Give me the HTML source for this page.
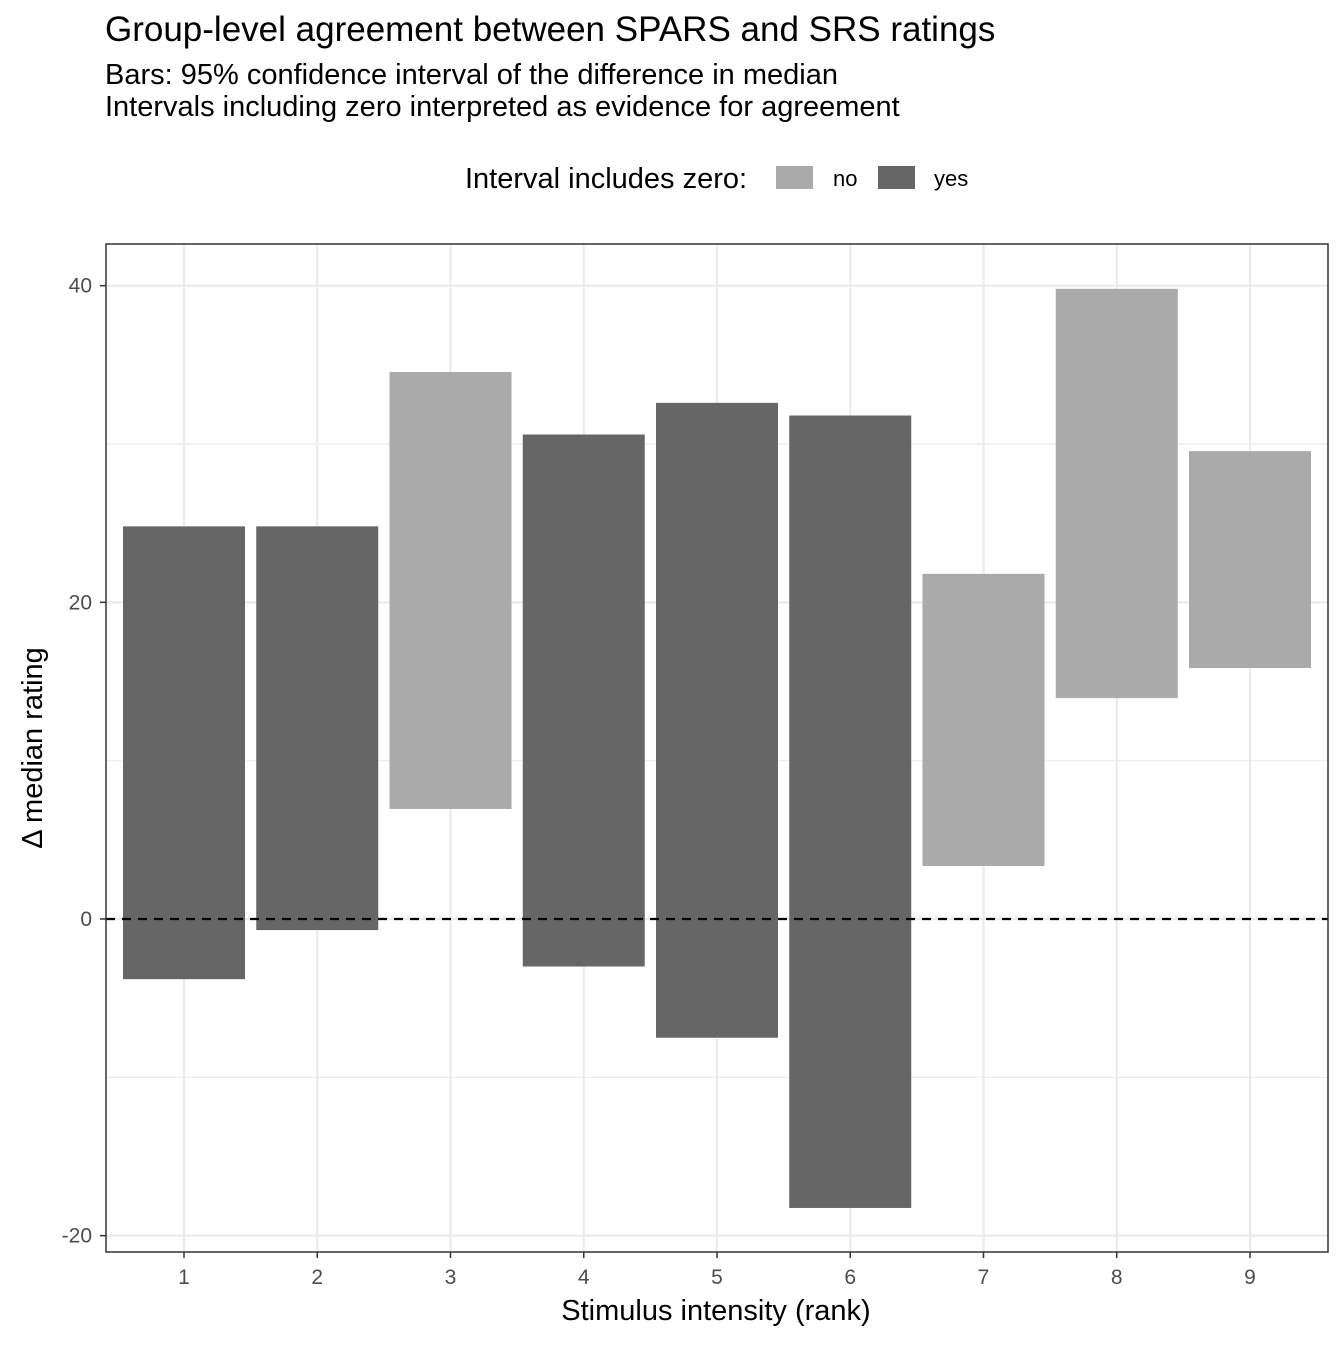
<!DOCTYPE html>
<html><head><meta charset="utf-8"><style>
body{margin:0;background:#fff;}
svg text{font-family:"Liberation Sans",Arial,sans-serif;}
</style></head><body>
<svg width="1344" height="1344" xmlns="http://www.w3.org/2000/svg">
<rect width="1344" height="1344" fill="#fff"/>
<text x="105" y="41" font-size="35" fill="#000">Group-level agreement between SPARS and SRS ratings</text>
<text x="105" y="84" font-size="29" fill="#000">Bars: 95% confidence interval of the difference in median</text>
<text x="105" y="116" font-size="29" fill="#000">Intervals including zero interpreted as evidence for agreement</text>
<g>
<text x="465" y="188" font-size="29">Interval includes zero:</text>
<rect x="776" y="166" width="37" height="23" fill="#aaaaaa"/>
<text x="833" y="186" font-size="22">no</text>
<rect x="878" y="166" width="37" height="23" fill="#666666"/>
<text x="934" y="186" font-size="22">yes</text>
</g>
<g id="grid"></g>
<g id="bars"></g>
<line x1="106" x2="1328" y1="919" y2="919" stroke="#000" stroke-width="2.2" stroke-dasharray="9,7" id="zeroline"/>
<rect x="106" y="244" width="1222" height="1008" fill="none" stroke="#333" stroke-width="1.5"/>
<g id="axes"></g>
<text x="716" y="1320" font-size="29" text-anchor="middle">Stimulus intensity (rank)</text>
<text transform="translate(42,748) rotate(-90)" font-size="29" text-anchor="middle">Δ median rating</text>
</svg>
<script>
const categories=[1,2,3,4,5,6,7,8,9];
const upper=[24.8,24.8,34.55,30.6,32.6,31.8,21.8,39.8,29.55];
const lower=[-3.8,-0.7,6.95,-3.0,-7.5,-18.25,3.35,13.95,15.85];
const includesZero=["yes","yes","no","yes","yes","yes","no","no","no"];
const yTicks=[-20,0,20,40];
const yMinor=[-10,10,30];
const NS="http://www.w3.org/2000/svg";
const y=v=>919-v*15.833;
const x=c=>184+(c-1)*133.25;
const bw=122;
function mk(tag,attrs,parent){const e=document.createElementNS(NS,tag);for(const k in attrs)e.setAttribute(k,attrs[k]);document.getElementById(parent).appendChild(e);return e;}
yMinor.forEach(v=>{const l=mk('line',{x1:106,x2:1328,y1:y(v),y2:y(v),stroke:'#ebebeb','stroke-width':1.2},'grid');

});
yTicks.forEach(v=>{const l=mk('line',{x1:106,x2:1328,y1:y(v),y2:y(v),stroke:'#ebebeb','stroke-width':2.2},'grid');


const t=mk('line',{x1:100,x2:106,y1:y(v),y2:y(v),stroke:'#333','stroke-width':1.5},'axes');


const tx=mk('text',{x:92,y:y(v)+7,'font-size':21,'text-anchor':'end',fill:'#4d4d4d'},'axes');tx.textContent=v;

});
categories.forEach((c,i)=>{const l=mk('line',{x1:x(c),x2:x(c),y1:244,y2:1252,stroke:'#ebebeb','stroke-width':2.2},'grid');


const b=mk('rect',{x:x(c)-bw/2,y:y(upper[i]),width:bw,height:y(lower[i])-y(upper[i]),fill:includesZero[i]==='yes'?'#666666':'#aaaaaa'},'bars');


const t=mk('line',{x1:x(c),x2:x(c),y1:1252,y2:1258,stroke:'#333','stroke-width':1.5},'axes');


const tx=mk('text',{x:x(c),y:1284,'font-size':21,'text-anchor':'middle',fill:'#4d4d4d'},'axes');tx.textContent=c;

});
</script>
</body></html>
